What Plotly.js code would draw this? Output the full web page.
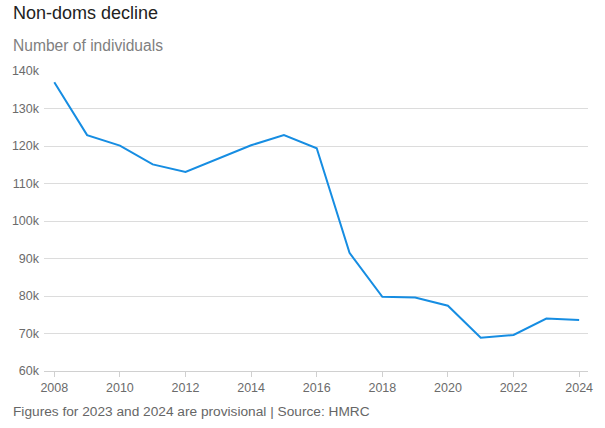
<!DOCTYPE html>
<html>
<head>
<meta charset="utf-8">
<script src="https://cdn.plot.ly/plotly-3.0.1.min.js"></script>
<style>html,body{margin:0;padding:0;background:#fff;}#chart{width:605px;height:428px;}</style>
</head>
<body>
<div id="chart"></div>
<script>
const years = [2008,2009,2010,2011,2012,2013,2014,2015,2016,2017,2018,2019,2020,2021,2022,2023,2024];
const nonDoms = [137000,122900,120100,115100,113100,116700,120200,122900,119400,91500,79800,79600,77400,68900,69600,74000,73600];
const yTickVals = [60000,70000,80000,90000,100000,110000,120000,130000,140000];
const yTickText = ['60k','70k','80k','90k','100k','110k','120k','130k','140k'];
const xTickVals = [2008,2010,2012,2014,2016,2018,2020,2022,2024];

const W = 605, H = 428, L = 44, R = 17;
const pw = W - L - R;
function px(x){ return (x - L) / pw; }

const trace = {
  x: years, y: nonDoms, type: 'scatter', mode: 'lines',
  line: {color: '#168de2', width: 2}, hoverinfo: 'x+y'
};
const tickFont = {family: '"Liberation Sans", Arial, sans-serif', size: 12.5, color: '#6b6b6b'};
const layout = {
  width: W, height: H,
  margin: {l: L, r: R, t: 71, b: 57},
  paper_bgcolor: '#fff', plot_bgcolor: '#fff',
  showlegend: false,
  xaxis: {
    range: [2007.686, 2024.27], tickvals: xTickVals, ticktext: xTickVals.map(String),
    showgrid: false, zeroline: false, showline: true, linecolor: '#d0d0d0', linewidth: 1,
    ticks: 'outside', ticklen: 5, tickcolor: '#d0d0d0', tickfont: tickFont, fixedrange: true
  },
  yaxis: {
    range: [60000, 140000], tickvals: yTickVals, ticktext: yTickText,
    showgrid: true, gridcolor: '#dcdcdc', gridwidth: 1, zeroline: false, showline: false,
    ticks: '', tickfont: tickFont, ticklabelstandoff: 4, fixedrange: true
  },
  annotations: [
    {text: 'Non-doms decline', xref: 'paper', yref: 'paper', x: px(11), y: 1 + (71-13)/300, xanchor: 'left', yanchor: 'middle', showarrow: false,
     font: {family: '"Liberation Sans", Arial, sans-serif', size: 18, color: '#222'}},
    {text: 'Number of individuals', xref: 'paper', yref: 'paper', x: px(11), y: 1 + (71-45)/300, xanchor: 'left', yanchor: 'middle', showarrow: false,
     font: {family: '"Liberation Sans", Arial, sans-serif', size: 15.6, color: '#808080'}},
    {text: 'Figures for 2023 and 2024 are provisional | Source: HMRC', xref: 'paper', yref: 'paper', x: px(11), y: -(411-371)/300, xanchor: 'left', yanchor: 'middle', showarrow: false,
     font: {family: '"Liberation Sans", Arial, sans-serif', size: 13.7, color: '#666'}}
  ]
};
Plotly.newPlot('chart', [trace], layout, {displayModeBar: false, staticPlot: true});
</script>
</body>
</html>
